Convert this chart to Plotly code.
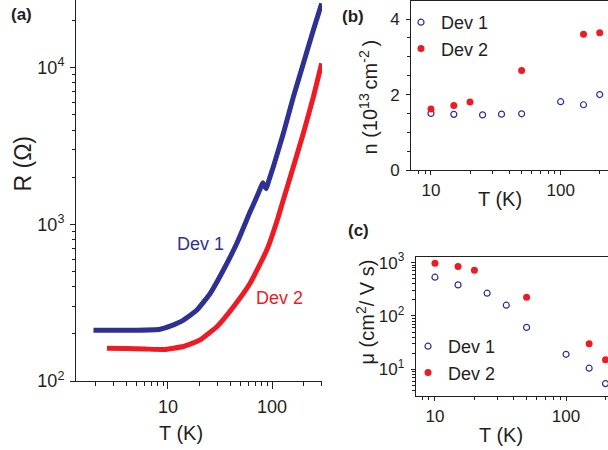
import math
import plotly.graph_objects as go

W, H = 608, 450
BLUE = "#2E3192"
RED = "#ED1C24"
INK = "#231F20"
FONT = "Liberation Sans, Arial, sans-serif"

# ---- (a) R(T) sweeps ----
t_dev1 = [1.93, 3.0, 5.0, 8.4, 10.5, 14.1, 19.0, 25.5, 34.1, 45.9, 61.5, 70.3,
          76.7, 81.4, 87.7, 92.3, 102.8, 128.3, 160.0, 199.5, 249.0, 299.0]
r_dev1 = [211, 211, 211, 214, 224, 245, 284, 363, 511, 757, 1202, 1466,
          1680, 1846, 1690, 1871, 2334, 3810, 6510, 10640, 17380, 25700]

t_dev2 = [2.6, 4.0, 6.0, 9.1, 14.1, 20.4, 29.5, 42.6, 61.5, 88.9, 114.8,
          126.8, 160.0, 199.5, 249.0, 299.0]
r_dev2 = [162, 161, 160, 159, 166, 183, 222, 298, 421, 685, 1119,
          1400, 2334, 3810, 6510, 10640]

# ---- (b) carrier density and (c) Hall mobility ----
t_hall_dev1 = [10, 15, 25, 35, 50, 100, 150, 200]
n_dev1 = [1.50, 1.475, 1.46, 1.48, 1.49, 1.81, 1.73, 2.00]
mu_dev1 = [532, 382, 267, 159, 61, 19.1, 10.5, 5.4]

t_hall_dev2 = [10, 15, 20, 50, 150, 200]
n_dev2 = [1.62, 1.71, 1.80, 2.64, 3.60, 3.64]
mu_dev2 = [975, 841, 720, 224, 30.2, 15.1]

# ---- tick labels ----
t_tickvals = [10, 100]
t_ticktext = ["10", "100"]
r_tickvals = [100, 1000, 10000]
r_ticktext = ["10<sup>2</sup>", "10<sup>3</sup>", "10<sup>4</sup>"]
n_tickvals = [0, 2, 4]
n_ticktext = ["0", "2", "4"]
mu_tickvals = [10, 100, 1000]
mu_ticktext = ["10<sup>1</sup>", "10<sup>2</sup>", "10<sup>3</sup>"]


def decade_minors(lo, hi):
    vals = []
    d = lo
    while d < hi:
        vals += [k * d for k in range(2, 10)]
        d *= 10
    return vals


def px_x(p):
    return p / W


def px_y(p):
    return 1 - p / H


def axis(domain, rng, anchor, tickvals, ticktext, minor_vals, size, ticklen, minorlen,
         log=True, mirror=False, standoff=None):
    d = dict(
        domain=domain, range=rng, anchor=anchor, type="log" if log else "linear",
        showline=True, linecolor=INK, linewidth=1, mirror=mirror,
        showgrid=False, zeroline=False,
        tickmode="array", tickvals=tickvals, ticktext=ticktext,
        ticks="outside", ticklen=ticklen, tickwidth=1, tickcolor=INK,
        tickfont=dict(family=FONT, size=size, color=INK),
        layer="above traces", automargin=False,
    )
    if minor_vals:
        d["minor"] = dict(tickmode="array", tickvals=minor_vals, ticks="outside",
                          ticklen=minorlen, tickwidth=1, tickcolor=INK, showgrid=False)
    if standoff is not None:
        d["ticklabelstandoff"] = standoff
    return d


fig = go.Figure()

# (a)
fig.add_trace(go.Scatter(x=t_dev1, y=r_dev1, mode="lines", name="Dev 1",
                         line=dict(color=BLUE, width=5, shape="spline", smoothing=0.4),
                         xaxis="x", yaxis="y", showlegend=False))
fig.add_trace(go.Scatter(x=t_dev2, y=r_dev2, mode="lines", name="Dev 2",
                         line=dict(color=RED, width=5, shape="spline", smoothing=0.4),
                         xaxis="x", yaxis="y", showlegend=False))

# (b)
open_marker = dict(symbol="circle-open", size=6, color=BLUE, line=dict(width=1.2, color=BLUE))
fill_marker = dict(symbol="circle", size=7, color=RED)
fig.add_trace(go.Scatter(x=t_hall_dev1, y=n_dev1, mode="markers", name="Dev 1",
                         marker=open_marker, xaxis="x2", yaxis="y2", legend="legend"))
fig.add_trace(go.Scatter(x=t_hall_dev2, y=n_dev2, mode="markers", name="Dev 2",
                         marker=fill_marker, xaxis="x2", yaxis="y2", legend="legend"))

# (c)
fig.add_trace(go.Scatter(x=t_hall_dev1, y=mu_dev1, mode="markers", name="Dev 1",
                         marker=open_marker, xaxis="x3", yaxis="y3", legend="legend2"))
fig.add_trace(go.Scatter(x=t_hall_dev2, y=mu_dev2, mode="markers", name="Dev 2",
                         marker=fill_marker, xaxis="x3", yaxis="y3", legend="legend2"))

t_minor = decade_minors(1, 1000)

layout = dict(
    template="none",
    width=W, height=H,
    margin=dict(l=0, r=0, t=0, b=0, pad=0, autoexpand=False),
    paper_bgcolor="white", plot_bgcolor="white",
    font=dict(family=FONT, color=INK),
    xaxis=axis([px_x(76), px_x(322)], [0.118, 2.479], "y", t_tickvals, t_ticktext,
               [v for v in t_minor if 1.3 < v <= 300], 18, 7, 4, standoff=2),
    yaxis=axis([px_y(381), 1.0], [2, 4.432], "x", r_tickvals, r_ticktext,
               decade_minors(100, 100000), 18, 5, 3.5, standoff=2),
    xaxis2=axis([px_x(411), 1.0], [0.846, 2.365], "y2", t_tickvals, t_ticktext,
                [v for v in t_minor if 7 < v <= 300], 17, 4, 3, mirror=True, standoff=1),
    yaxis2=axis([px_y(170), px_y(1)], [0, 4.48], "x2", n_tickvals, n_ticktext,
                [0.5, 1, 1.5, 2.5, 3, 3.5], 17, 4, 3, log=False, standoff=3),
    xaxis3=axis([px_x(415.7), 1.0], [0.853, 2.32], "y3", t_tickvals, t_ticktext,
                [v for v in t_minor if 7 < v <= 300], 17, 4, 3, mirror=True, standoff=1),
    yaxis3=axis([px_y(396), px_y(256.7)], [0.5, 3.11], "x3", mu_tickvals, mu_ticktext,
                decade_minors(1, 1000), 17, 4, 3, standoff=3),
    legend=dict(x=px_x(401), xanchor="left", y=px_y(4), yanchor="top",
                font=dict(family=FONT, size=18, color=INK),
                bgcolor="rgba(0,0,0,0)", borderwidth=0, tracegroupgap=0),
    legend2=dict(x=px_x(408), xanchor="left", y=px_y(328), yanchor="top",
                 font=dict(family=FONT, size=18, color=INK),
                 bgcolor="rgba(0,0,0,0)", borderwidth=0, tracegroupgap=0),
)
fig.update_layout(**layout)


def label(text, x, y, size, bold=False, angle=0, color=INK, xref="paper", yref="paper"):
    fig.add_annotation(text=f"<b>{text}</b>" if bold else text, x=x, y=y,
                       xref=xref, yref=yref, showarrow=False, textangle=angle,
                       xanchor="center", yanchor="middle",
                       font=dict(family=FONT, size=size, color=color))


# panel letters
label("(a)", px_x(21), px_y(15), 17, bold=True)
label("(b)", px_x(353), px_y(16), 17, bold=True)
label("(c)", px_x(358), px_y(230.5), 17, bold=True)

# axis titles
label("R (Ω)", px_x(23), px_y(163.5), 23, angle=-90)
label("T (K)", px_x(181), px_y(433), 20)
label("n (10<sup>13 </sup>cm<sup>-2 </sup>)", px_x(368), px_y(97.5), 20, angle=-90)
label("T (K)", px_x(500), px_y(199), 20)
label("μ (cm<sup>2</sup>/ V s)", px_x(365), px_y(312.5), 20, angle=-90)
label("T (K)", px_x(500.5), px_y(435), 20)

# curve labels in (a), placed in data space
label("Dev 1", math.log10(20.4), math.log10(748), 18, color=BLUE, xref="x", yref="y")
label("Dev 2", math.log10(116.6), math.log10(339), 18, color=RED, xref="x", yref="y")

fig.write_html("out.html")
